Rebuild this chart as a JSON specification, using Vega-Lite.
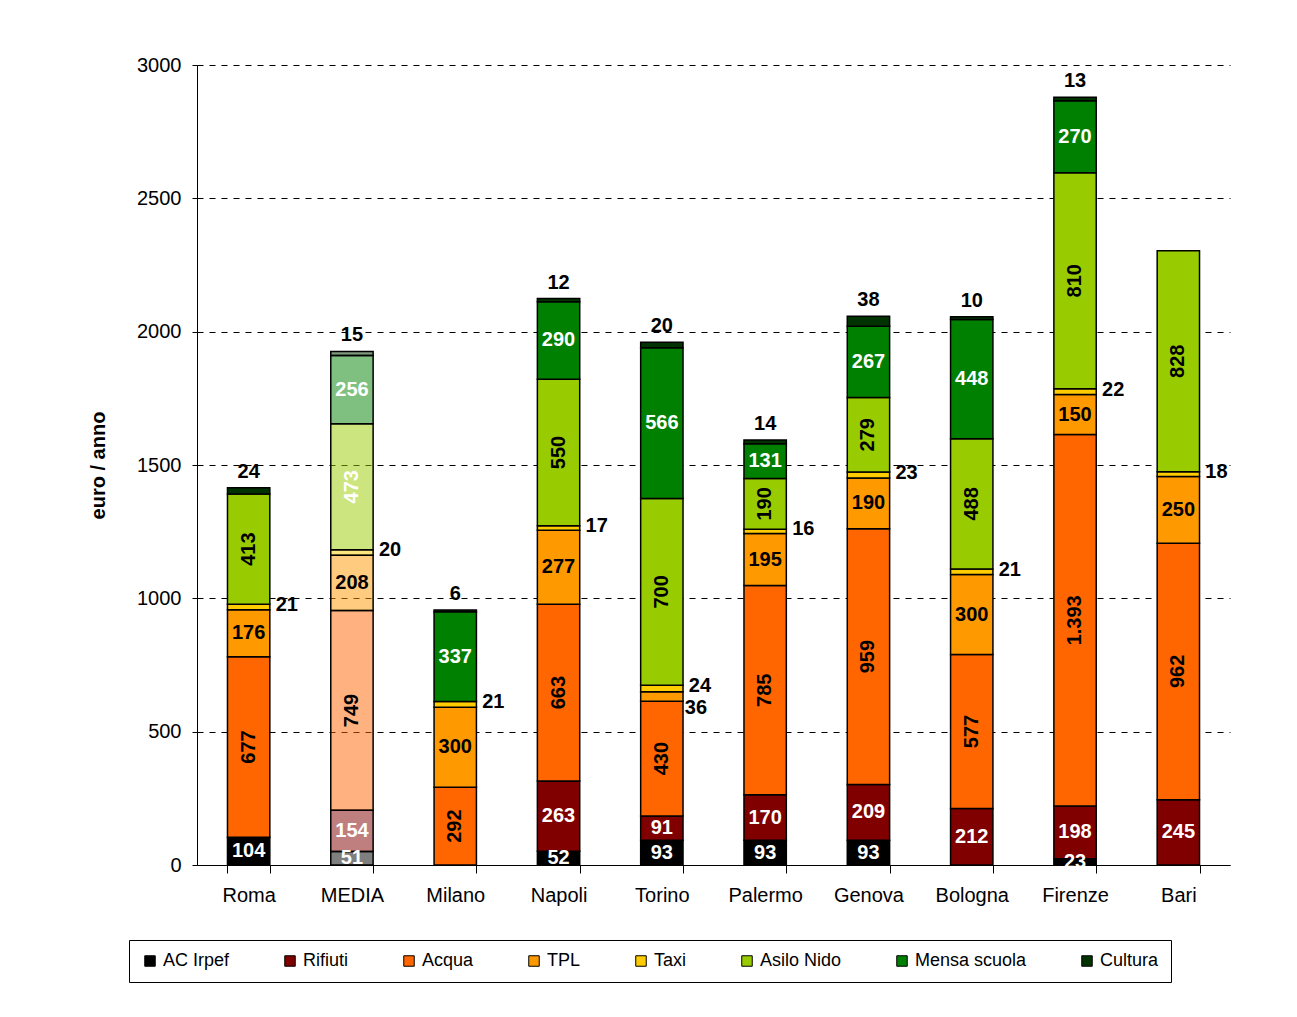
{
  "$schema": "https://vega.github.io/schema/vega-lite/v6.json",
  "width": 1033,
  "height": 800,
  "padding": {"left": 88, "top": 55, "right": 40, "bottom": 30},
  "background": "white",
  "config": {
    "font": "Liberation Sans",
    "view": {"stroke": null},
    "locale": {"number": {"decimal": ",", "thousands": ".", "grouping": [3], "currency": ["", " €"]}}
  },
  "data": {
    "values": [
      {"city": "Roma", "cat": "AC Irpef", "v": 104},
      {"city": "Roma", "cat": "Acqua", "v": 677},
      {"city": "Roma", "cat": "TPL", "v": 176},
      {"city": "Roma", "cat": "Taxi", "v": 21},
      {"city": "Roma", "cat": "Asilo Nido", "v": 413},
      {"city": "Roma", "cat": "Cultura", "v": 24},
      {"city": "MEDIA", "cat": "AC Irpef", "v": 51},
      {"city": "MEDIA", "cat": "Rifiuti", "v": 154},
      {"city": "MEDIA", "cat": "Acqua", "v": 749},
      {"city": "MEDIA", "cat": "TPL", "v": 208},
      {"city": "MEDIA", "cat": "Taxi", "v": 20},
      {"city": "MEDIA", "cat": "Asilo Nido", "v": 473},
      {"city": "MEDIA", "cat": "Mensa scuola", "v": 256},
      {"city": "MEDIA", "cat": "Cultura", "v": 15},
      {"city": "Milano", "cat": "Acqua", "v": 292},
      {"city": "Milano", "cat": "TPL", "v": 300},
      {"city": "Milano", "cat": "Taxi", "v": 21},
      {"city": "Milano", "cat": "Mensa scuola", "v": 337},
      {"city": "Milano", "cat": "Cultura", "v": 6},
      {"city": "Napoli", "cat": "AC Irpef", "v": 52},
      {"city": "Napoli", "cat": "Rifiuti", "v": 263},
      {"city": "Napoli", "cat": "Acqua", "v": 663},
      {"city": "Napoli", "cat": "TPL", "v": 277},
      {"city": "Napoli", "cat": "Taxi", "v": 17},
      {"city": "Napoli", "cat": "Asilo Nido", "v": 550},
      {"city": "Napoli", "cat": "Mensa scuola", "v": 290},
      {"city": "Napoli", "cat": "Cultura", "v": 12},
      {"city": "Torino", "cat": "AC Irpef", "v": 93},
      {"city": "Torino", "cat": "Rifiuti", "v": 91},
      {"city": "Torino", "cat": "Acqua", "v": 430},
      {"city": "Torino", "cat": "TPL", "v": 36},
      {"city": "Torino", "cat": "Taxi", "v": 24},
      {"city": "Torino", "cat": "Asilo Nido", "v": 700},
      {"city": "Torino", "cat": "Mensa scuola", "v": 566},
      {"city": "Torino", "cat": "Cultura", "v": 20},
      {"city": "Palermo", "cat": "AC Irpef", "v": 93},
      {"city": "Palermo", "cat": "Rifiuti", "v": 170},
      {"city": "Palermo", "cat": "Acqua", "v": 785},
      {"city": "Palermo", "cat": "TPL", "v": 195},
      {"city": "Palermo", "cat": "Taxi", "v": 16},
      {"city": "Palermo", "cat": "Asilo Nido", "v": 190},
      {"city": "Palermo", "cat": "Mensa scuola", "v": 131},
      {"city": "Palermo", "cat": "Cultura", "v": 14},
      {"city": "Genova", "cat": "AC Irpef", "v": 93},
      {"city": "Genova", "cat": "Rifiuti", "v": 209},
      {"city": "Genova", "cat": "Acqua", "v": 959},
      {"city": "Genova", "cat": "TPL", "v": 190},
      {"city": "Genova", "cat": "Taxi", "v": 23},
      {"city": "Genova", "cat": "Asilo Nido", "v": 279},
      {"city": "Genova", "cat": "Mensa scuola", "v": 267},
      {"city": "Genova", "cat": "Cultura", "v": 38},
      {"city": "Bologna", "cat": "Rifiuti", "v": 212},
      {"city": "Bologna", "cat": "Acqua", "v": 577},
      {"city": "Bologna", "cat": "TPL", "v": 300},
      {"city": "Bologna", "cat": "Taxi", "v": 21},
      {"city": "Bologna", "cat": "Asilo Nido", "v": 488},
      {"city": "Bologna", "cat": "Mensa scuola", "v": 448},
      {"city": "Bologna", "cat": "Cultura", "v": 10},
      {"city": "Firenze", "cat": "AC Irpef", "v": 23},
      {"city": "Firenze", "cat": "Rifiuti", "v": 198},
      {"city": "Firenze", "cat": "Acqua", "v": 1393},
      {"city": "Firenze", "cat": "TPL", "v": 150},
      {"city": "Firenze", "cat": "Taxi", "v": 22},
      {"city": "Firenze", "cat": "Asilo Nido", "v": 810},
      {"city": "Firenze", "cat": "Mensa scuola", "v": 270},
      {"city": "Firenze", "cat": "Cultura", "v": 13},
      {"city": "Bari", "cat": "Rifiuti", "v": 245},
      {"city": "Bari", "cat": "Acqua", "v": 962},
      {"city": "Bari", "cat": "TPL", "v": 250},
      {"city": "Bari", "cat": "Taxi", "v": 18},
      {"city": "Bari", "cat": "Asilo Nido", "v": 828}
    ]
  },
  "transform": [
    {"calculate": "indexof(['AC Irpef','Rifiuti','Acqua','TPL','Taxi','Asilo Nido','Mensa scuola','Cultura'], datum.cat)", "as": "ord"},
    {"stack": "v", "groupby": ["city"], "sort": [{"field": "ord", "order": "ascending"}], "as": ["y0", "y1"]},
    {"calculate": "(datum.y0 + datum.y1) / 2", "as": "mid"}
  ],
  "encoding": {
    "x": {
      "field": "city",
      "type": "nominal",
      "sort": ["Roma", "MEDIA", "Milano", "Napoli", "Torino", "Palermo", "Genova", "Bologna", "Firenze", "Bari"],
      "scale": {"paddingInner": 0.59, "paddingOuter": 0.295},
      "axis": {
        "title": null,
        "labelAngle": 0,
        "tickBand": "extent",
        "tickSize": 8,
        "tickColor": "black",
        "domainColor": "black",
        "labelFontSize": 20,
        "labelColor": "black",
        "labelPadding": 12
      }
    }
  },
  "layer": [
    {
      "mark": {"type": "bar", "stroke": "black", "strokeWidth": 1.5},
      "encoding": {
        "y": {
          "field": "y0",
          "type": "quantitative",
          "scale": {"domain": [0, 3000], "nice": false},
          "axis": {
            "values": [0, 500, 1000, 1500, 2000, 2500, 3000],
            "format": "d",
            "title": "euro / anno",
            "titleFontSize": 20,
            "titleFontWeight": "bold",
            "titleColor": "black",
            "titlePadding": 28,
            "labelFontSize": 20,
            "labelColor": "black",
            "labelPadding": 11,
            "tickSize": 5,
            "tickColor": "black",
            "domainColor": "black",
            "grid": true,
            "gridColor": "black",
            "gridDash": [6, 6],
            "gridWidth": 1
          }
        },
        "y2": {"field": "y1"},
        "color": {
          "field": "cat",
          "type": "nominal",
          "scale": {
            "domain": ["AC Irpef", "Rifiuti", "Acqua", "TPL", "Taxi", "Asilo Nido", "Mensa scuola", "Cultura"],
            "range": ["#000000", "#800000", "#FF6600", "#FF9900", "#FFCC00", "#99CC00", "#008000", "#003300"]
          },
          "legend": {
            "orient": "none",
            "legendX": -68,
            "legendY": 875,
            "direction": "horizontal",
            "columns": 8,
            "title": null,
            "symbolType": "square",
            "symbolSize": 110,
            "symbolStrokeColor": "black",
            "symbolStrokeWidth": 1,
            "symbolOpacity": 1,
            "labelFontSize": 18,
            "labelColor": "black",
            "labelOffset": 4,
            "columnPadding": 51,
            "padding": 12,
            "strokeColor": "black",
            "fillColor": "white"
          }
        },
        "fillOpacity": {"condition": {"test": "datum.city === 'MEDIA'", "value": 0.5}, "value": 1}
      }
    },
    {
      "transform": [{"filter": "indexof(['AC Irpef','Rifiuti','Mensa scuola'], datum.cat) >= 0"}],
      "mark": {"type": "text", "fontWeight": "bold", "fontSize": 20, "fill": "white", "baseline": "middle"},
      "encoding": {
        "y": {"field": "mid", "type": "quantitative", "title": "euro / anno"},
        "text": {"field": "v", "type": "quantitative", "format": ",d"}
      }
    },
    {
      "transform": [{"filter": "datum.cat === 'TPL' && datum.v >= 40"}],
      "mark": {"type": "text", "fontWeight": "bold", "fontSize": 20, "fill": "black", "baseline": "middle"},
      "encoding": {
        "y": {"field": "mid", "type": "quantitative", "title": "euro / anno"},
        "text": {"field": "v", "type": "quantitative", "format": ",d"}
      }
    },
    {
      "transform": [{"filter": "datum.cat === 'Acqua' || datum.cat === 'Asilo Nido'"}],
      "mark": {"type": "text", "fontWeight": "bold", "fontSize": 20, "angle": 270, "baseline": "middle", "align": "center"},
      "encoding": {
        "y": {"field": "mid", "type": "quantitative", "title": "euro / anno"},
        "text": {"field": "v", "type": "quantitative", "format": ",d"},
        "color": {"condition": {"test": "datum.city === 'MEDIA' && datum.cat === 'Asilo Nido'", "value": "white"}, "value": "black"}
      }
    },
    {
      "transform": [{"filter": "datum.cat === 'Taxi'"}],
      "mark": {"type": "text", "fontWeight": "bold", "fontSize": 20, "fill": "black", "baseline": "middle", "align": "left", "dx": 27, "dy": -2},
      "encoding": {
        "y": {"field": "mid", "type": "quantitative", "title": "euro / anno"},
        "text": {"field": "v", "type": "quantitative", "format": ",d"}
      }
    },
    {
      "transform": [{"filter": "datum.cat === 'TPL' && datum.v < 40"}],
      "mark": {"type": "text", "fontWeight": "bold", "fontSize": 20, "fill": "black", "baseline": "middle", "align": "left", "dx": 23, "dy": 12},
      "encoding": {
        "y": {"field": "mid", "type": "quantitative", "title": "euro / anno"},
        "text": {"field": "v", "type": "quantitative", "format": ",d"}
      }
    },
    {
      "transform": [{"filter": "datum.cat === 'Cultura'"}],
      "mark": {"type": "text", "fontWeight": "bold", "fontSize": 20, "fill": "black", "baseline": "middle", "dy": -16},
      "encoding": {
        "y": {"field": "y1", "type": "quantitative", "title": "euro / anno"},
        "text": {"field": "v", "type": "quantitative", "format": ",d"}
      }
    }
  ]
}
